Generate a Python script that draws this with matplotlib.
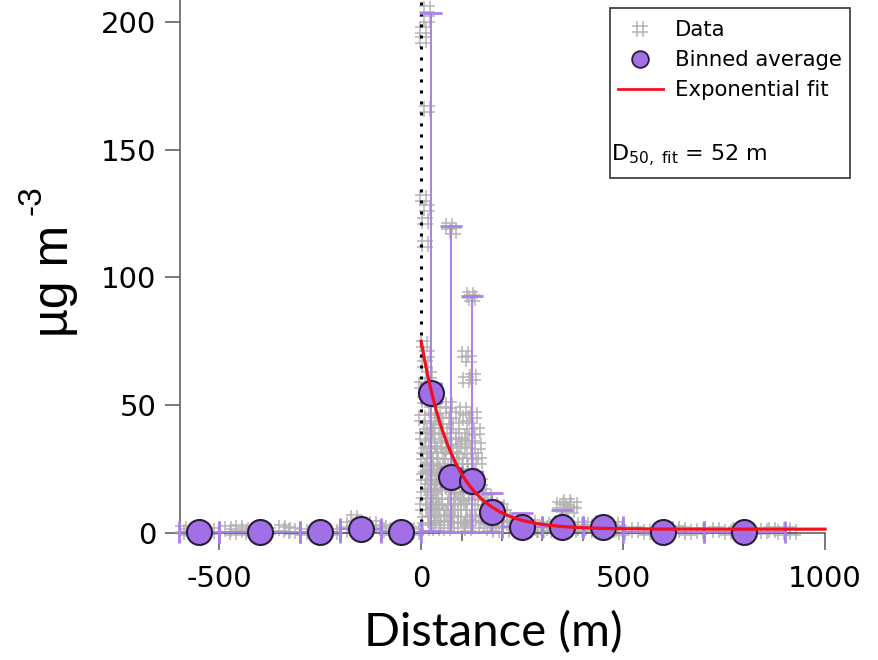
import numpy as np
import matplotlib
matplotlib.use("Agg")
import matplotlib.pyplot as plt
from matplotlib.path import Path
from matplotlib.lines import Line2D
from matplotlib.patches import Rectangle

plt.rcParams['mathtext.default'] = 'regular'
plt.rcParams['font.family'] = ['DejaVu Sans']
plt.rcParams['axes.unicode_minus'] = False

# ---------------- data ----------------
data_x = [
    # upwind side (negative distance)
    -590, -580, -560, -540, -520, -478, -465, -450, -437, -425, -400, -380,
    -345, -333, -320, -290, -260, -240, -215, -190, -175, -165, -155, -140,
    -128, -120, -95, -85, -70, -55, -40, -25, -12,
    # 0-50 m
    15, 15, 5, 5, 15, 5, 15, 10, 10, 8, 15, 10, 20,
    3, 5, 8, 10, 12, 14, 16, 18, 20, 22, 24, 26, 28, 30, 32, 34, 36, 38, 40,
    42, 44, 46, 48, 6, 9, 13, 19, 27, 35, 41, 45, 2, 7, 23, 31, 37,
    4, 11, 17, 25, 33, 39, 47, 21, 29, 43,
    # 50-100 m
    68, 80, 55, 62, 70, 78, 86, 58, 66, 74, 82, 90, 96, 54, 60, 68, 76, 84,
    92, 98, 64, 72, 88, 80, 94,
    52, 57, 63, 69, 75, 81, 87, 93, 99, 61, 73, 85,
    # 100-150 m
    122, 126, 108, 118, 112, 128, 104, 112, 120, 130, 138, 106, 116, 126,
    134, 144, 102, 110, 118, 124, 132, 140, 148, 105, 115, 136, 146, 128,
    101, 109, 117, 125, 133, 141, 107, 121, 139,
    # 150-200 m
    152, 158, 165, 172, 180, 188, 195, 155, 162, 170, 178, 185, 192, 198, 168,
    # 200-300 m
    205, 212, 220, 230, 238, 246, 255, 262, 270, 280, 290, 296, 225, 250, 275,
    # 300-400 m
    345, 352, 360, 370, 378, 310, 320, 330, 380, 390, 395, 340, 365,
    # 400-500 m
    405, 415, 430, 440, 460, 470, 480, 490, 498,
    # 500-900 m
    530, 560, 630, 645, 660, 690, 730, 760, 780, 850, 870, 890, 905, 920,
]
data_y = [
    1.5, 0.5, 1, 0.5, 0.8, 1.5, 0.5, 1.8, 1, 0.5, 0.3, 0.8,
    2, 1.2, 0.8, 0.5, 0.3, 0.6, 0.4, 1, 3, 6, 4, 2.5,
    1.5, 3.5, 2, 1, 0.5, 0.8, 0.3, 1, 0.5,
    205, 201, 197, 193, 166, 131, 127, 122, 113, 74, 70, 66, 62,
    45, 38, 30, 52, 25, 42, 18, 35, 12, 28, 8, 48, 20, 5, 33, 15, 40, 10, 25,
    3, 18, 30, 8, 15, 5, 2, 22, 38, 28, 44, 12, 58, 22, 55, 45, 2,
    10, 32, 26, 16, 24, 6, 21, 40, 11, 34,
    120, 118, 48, 44, 50, 46, 42, 35, 30, 26, 33, 22, 28, 18, 12, 8, 15, 5,
    10, 3, 2, 20, 14, 38, 36,
    25, 40, 6, 32, 10, 24, 30, 17, 12, 22, 3, 8,
    93, 92, 70, 68, 60, 61, 48, 45, 42, 46, 40, 35, 32, 37,
    30, 28, 20, 15, 10, 24, 18, 8, 12, 5, 2, 3, 20, 6,
    38, 26, 4, 14, 22, 34, 10, 28, 16,
    16, 12, 14, 9, 11, 8, 6, 5, 3, 2, 4, 1, 3, 10, 7,
    8, 6, 4, 5, 3, 2, 3, 1.5, 2.5, 1, 2, 1, 1, 0.5, 4,
    11, 10, 12, 9, 11, 3, 2, 1, 2, 1, 3, 4, 1.5,
    3, 2, 1, 4, 2, 1, 3, 1.5, 0.5,
    1, 0.5, 1.5, 1, 0.5, 0.8, 1, 0.5, 1.2, 0.8, 1, 0.5, 1, 0.5,
]

bin_x = [-550, -400, -250, -150, -50, 25, 75, 125, 175, 250, 350, 450, 600, 800]
bin_halfwidth = [50, 100, 50, 50, 50, 25, 25, 25, 25, 50, 50, 50, 100, 100]
bin_mean = [0.5, 0.5, 0.5, 1.4, 0.2, 54.7, 22, 20.3, 8.1, 2.5, 2.4, 2.4, 0.5, 0.5]
bin_min = [0, 0, 0, 0, 0, 0.8, 0.5, 0.5, 0.5, 0.2, 0.2, 0.2, 0, 0]
bin_max = [1.5, 1.8, 1.0, 4.0, 3.5, 203.4, 120, 92.7, 15.5, 7.8, 9.0, 4.0, 1.5, 1.5]

fit_amplitude = 73.5   # ug m-3 at distance 0 (above offset)
fit_length = 82.0      # e-folding length, m
fit_offset = 1.5       # background, ug m-3
d50_label = 'D$_{50,\\ fit}$ = 52 m'

x_ticks = [-500, 0, 500, 1000]
y_ticks = [0, 50, 100, 150, 200]

# ---------------- figure ----------------
W, H = 879, 660
fig = plt.figure(figsize=(W / 100, H / 100), dpi=100)
ax = fig.add_axes([180 / W, 1 - 533 / H, 645 / W, 533 / H])
ax.set_xlim(-597, 1000)
ax.set_ylim(0, 208.6)

hash_marker = Path(
    [(-0.35, -1), (-0.35, 1), (0.35, -1), (0.35, 1),
     (-1, -0.35), (1, -0.35), (-1, 0.35), (1, 0.35)],
    [Path.MOVETO, Path.LINETO] * 4)

gray = '#b4b4b4'
purple_fill = '#a16fe6'
purple_bar = '#a882e8'
edge = '#2a1c3a'
red = '#f01020'

ax.plot(data_x, data_y, ls='none', marker=hash_marker, ms=11.5, mec=gray,
        mfc='none', mew=1.1, clip_on=False, zorder=2)

ax.axvline(0, color='black', lw=2.2, ls=(0, (1, 2.6)), dash_capstyle='butt',
           zorder=3)

bm = np.array(bin_mean)
yerr = [bm - np.array(bin_min), np.array(bin_max) - bm]
eb = ax.errorbar(bin_x, bin_mean, yerr=yerr, xerr=bin_halfwidth, fmt='none',
                 ecolor=purple_bar, elinewidth=1.4, capsize=8, capthick=2,
                 zorder=3)
for art in list(eb.lines[1]) + list(eb.lines[2]):
    art.set_clip_on(False)

ax.plot(bin_x, bin_mean, ls='none', marker='o', ms=18, mfc=purple_fill,
        mec=edge, mew=1.5, clip_on=False, zorder=4)

xf = np.linspace(0, 1000, 400)
ax.plot(xf, fit_amplitude * np.exp(-xf / fit_length) + fit_offset,
        color=red, lw=2.3, zorder=5, clip_on=False)

# axes styling
for s in ['top', 'right']:
    ax.spines[s].set_visible(False)
for s in ['left', 'bottom']:
    ax.spines[s].set_color('#555555')
    ax.spines[s].set_linewidth(1.1)
ax.set_xticks(x_ticks)
ax.set_xticks(np.arange(-500, 1001, 100), minor=True)
ax.set_yticks(y_ticks)
ax.tick_params(axis='x', which='major', length=12, width=1.1, color='#555555',
               labelsize=21, pad=11)
ax.tick_params(axis='x', which='minor', length=6, width=1.1, color='#555555')
ax.tick_params(axis='y', which='major', length=11, width=1.1, color='#555555',
               labelsize=21, pad=6)

# axis titles
fig.text(493 / W, 1 - 633 / H, 'Distance (m)', fontsize=34, family='Lato',
         ha='center', va='center')
fig.text(68 / W, 1 - 337 / H, 'µg m', fontsize=36, family='Liberation Sans',
         rotation=90, rotation_mode='anchor', ha='left', va='baseline')
fig.text(41 / W, 1 - 215 / H, '-3', fontsize=24, family='Liberation Sans',
         rotation=90, rotation_mode='anchor', ha='left', va='baseline')

# legend box
box = Rectangle((610 / W, 1 - 178 / H), 240 / W, 170 / H,
                transform=fig.transFigure, facecolor='white',
                edgecolor='#333333', lw=1.2, zorder=6)
fig.patches.append(box)
handles = [
    Line2D([], [], ls='none', marker=hash_marker, ms=11, mec=gray, mfc='none',
           mew=1.1),
    Line2D([], [], ls='none', marker='o', ms=12, mfc=purple_fill, mec=edge,
           mew=1.3),
    Line2D([], [], color=red, lw=2),
]
leg = fig.legend(handles, ['Data', 'Binned average', 'Exponential fit'],
                 loc='upper left', bbox_to_anchor=(618 / W, 1 - 20 / H),
                 bbox_transform=fig.transFigure, frameon=False, fontsize=15.3,
                 handlelength=2.1, handletextpad=0.6, labelspacing=0.47,
                 borderpad=0, borderaxespad=0)
leg.set_zorder(7)
fig.text(611 / W, 1 - 161 / H, d50_label, fontsize=16, va='baseline',
         ha='left', zorder=7)

fig.savefig('out.png', dpi=100)
